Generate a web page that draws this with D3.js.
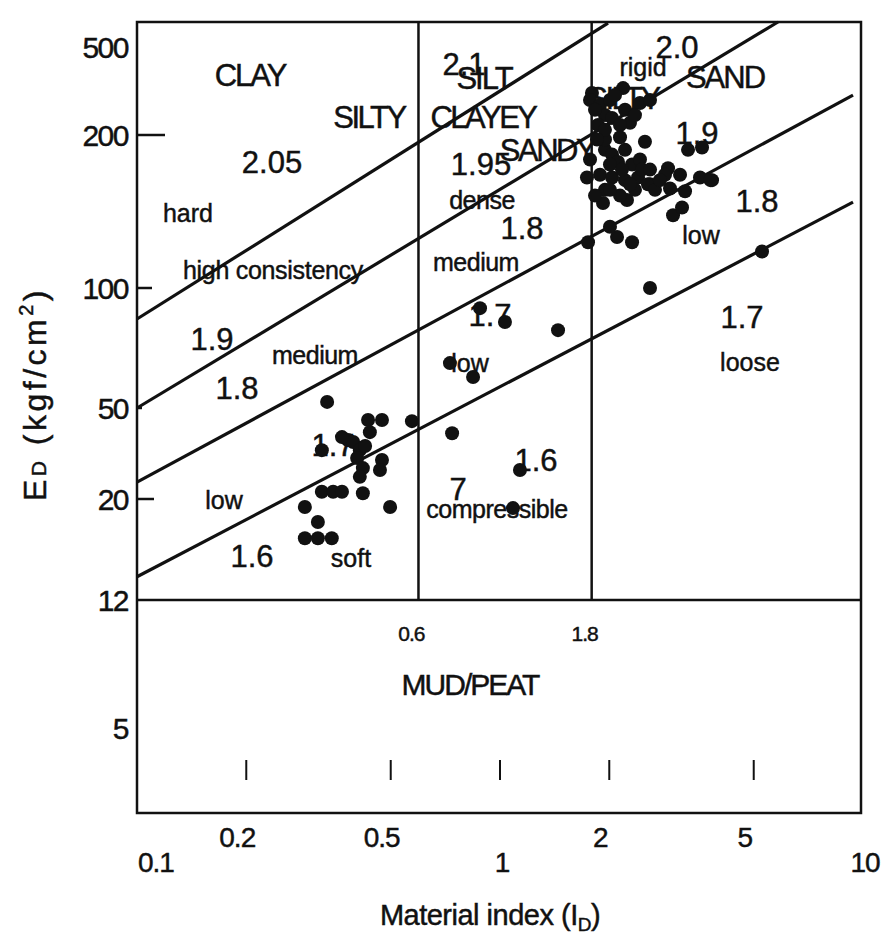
<!DOCTYPE html>
<html><head><meta charset="utf-8">
<script src="https://cdn.jsdelivr.net/npm/d3@7/dist/d3.min.js"></script>
<style>
body{margin:0;background:#fff}
svg{display:block}
text{font-family:"Liberation Sans",Arial,Helvetica,sans-serif;fill:#111;stroke:#111;stroke-width:0.45px}
</style>
</head><body>
<svg id="chart" width="881" height="942"></svg>
<script>
// ---------------- data ----------------
const xTicksUpper = [0.2, 0.5, 2, 5];
const xTicksLower = [0.1, 1, 10];
const xTickMarks  = [0.2, 0.5, 1, 2, 5];
const yTicks      = [5, 12, 20, 50, 100, 200, 500];
const yTickLen    = [0, 0, 17, 5, 15, 28, 0];
const boundaries  = [0.6, 1.8];      // ID boundaries clay/silt/sand
const mudLimit    = 12;              // ED below which MUD/PEAT

// constant unit weight lines (start & end in data units)
const lineStartX = [0.1, 0.1, 0.1, 0.1];
const lineStartY = [83.6, 50, 23.7, 13.5];
const lineEndX   = [1.984, 5.833, 9.387, 9.387];
const lineEndY   = [642, 650, 303, 147.6];

// measured points: material index ID, modulus ED (kgf/cm2)
const pointsID = [
  0.334,0.433,0.473,0.572,0.438,0.381,0.394,0.323,0.411,0.404,0.473,0.419,0.467,0.411,
  0.323,0.347,0.367,0.419,0.290,0.498,0.315,0.290,0.315,0.344,0.367,0.425,
  0.881,1.032,1.445,0.728,0.843,0.738,1.135,1.086,
  2.590,5.27,1.748,2.311,2.101,2.009,2.997,3.173,1.922,2.238,3.234,2.940,2.590,3.556,3.838,
  2.903,3.133,3.296,3.602,1.736,1.770,2.508,2.281,2.183,1.792,
  1.770,1.886,2.009,2.210,2.430,2.590,1.946,1.862,2.035,
  1.946,2.035,2.114,2.210,2.311,2.430,1.886,2.035,2.210,2.400,1.946,2.141,2.354,2.557,
  1.946,2.141,2.848,3.80,
  1.827,2.074,2.354,1.946,2.141,1.850,2.009,2.168,2.281,2.461,2.009,1.827,2.590,2.673,2.759
];
const pointsED = [
  51.8,44.3,44.3,43.8,39.2,36.2,35.5,32.7,32.7,30.2,29.6,27.3,26.8,25.0,
  21.5,21.5,21.5,21.2,19.2,19.2,17.8,16.4,16.4,16.4,37.3,34.1,
  89.0,82.2,78.4,64.8,59.8,38.8,26.8,19.1,
  100,118,123,123,126,132,139,144,147,149,155,157,160,165,163,
  172,167,187,189,165,179,194,227,326,310,
  288,273,288,260,279,288,246,222,239,
  187,183,177,187,175,179,167,165,163,165,156,152,156,160,
  196,198,167,163,
  260,303,246,211,222,196,175,171,160,171,156,152,171,156,163
];

// text annotations (layout): text, x, y, font size, letter spacing
const labelLayout = [
  ["CLAY",250,75,31,-2],["SILTY",369,117,31,-2.5],["2.05",272,162,31,0],
  ["hard",188,213,25,0],["high consistency",273,270,25,-0.3],
  ["1.9",212,339,31,0],["medium",315,355,25,-0.5],["1.8",237,388,31,0],
  ["low",224,500,25,0],["1.6",252,556,31,0],["soft",351,558,25,0],["1.7",333,445,31,0],
  ["2.1",464,64,31,0],["SILT",484,78,31,-2],["CLAYEY",483,117,31,-2.5],
  ["1.95",481,164,31,0],["SANDY",547,150,31,-2.5],["dense",482,200,25,-0.5],
  ["1.8",522,228,31,0],["medium",476,262,25,-0.5],["1.7",490,315,31,0],
  ["low",470,363,25,0],["1.6",536,460,31,0],["7",458,489,31,0],["compressible",497,509,25,-0.5],
  ["2.0",677,47,31,0],["rigid",643,67,25,0],["SILTY",623,98,31,-2.5],["SAND",725,77,31,-2],
  ["1.9",697,133,31,0],["1.8",757,201,31,0],["low",701,235,25,0],
  ["1.7",742,317,31,0],["loose",750,362,25,0],
  ["MUD/PEAT",470,684,30,-2]
];

// ---------------- scales ----------------
const svg = d3.select("#chart");
const x = d3.scaleLog().domain([0.1, 10]).range([137, 863]);
// scanned chart: piecewise logarithmic vertical axis
const y = d3.scaleLog()
  .domain([2.8, 5, 12, 20, 50, 100, 200, 500, 650])
  .range([813, 728, 600, 499, 408, 288, 135, 47, 22]);

const frameL = x(0.1), frameR = x(10) - 2, frameT = y(650), frameB = y(2.8);

// frame
svg.append("rect").attr("x", frameL).attr("y", frameT)
  .attr("width", frameR - frameL).attr("height", frameB - frameT)
  .attr("fill", "none").attr("stroke", "#111").attr("stroke-width", 2.5);
svg.append("line").attr("x1", frameL).attr("x2", frameR + 1)
  .attr("y1", y(mudLimit)).attr("y2", y(mudLimit))
  .attr("stroke", "#111").attr("stroke-width", 2.5);

// boundaries
svg.selectAll(".bnd").data(boundaries).enter().append("line")
  .attr("x1", d => x(d) - 1).attr("x2", d => x(d) - 1)
  .attr("y1", frameT).attr("y2", y(mudLimit))
  .attr("stroke", "#111").attr("stroke-width", 2.5);
svg.selectAll(".bndl").data(boundaries).enter().append("text")
  .attr("x", d => x(d) - 8).attr("y", y(mudLimit) + 41)
  .attr("text-anchor", "middle").attr("font-size", 21).attr("letter-spacing", -1)
  .text(d => d);

// unit weight lines
const lineGen = d3.line().x(d => x(d[0])).y(d => y(d[1]));
lineStartX.forEach((sx, i) => {
  svg.append("path")
    .attr("d", lineGen([[sx, lineStartY[i]], [lineEndX[i], lineEndY[i]]]))
    .attr("fill", "none").attr("stroke", "#111").attr("stroke-width", 3.2);
});

// y ticks
yTicks.forEach((t, i) => {
  if (yTickLen[i] > 0) {
    svg.append("line").attr("x1", frameL).attr("x2", frameL + yTickLen[i])
      .attr("y1", y(t)).attr("y2", y(t)).attr("stroke", "#111").attr("stroke-width", 2.5);
  }
  svg.append("text").attr("x", 128).attr("y", y(t)).attr("dy", "0.36em")
    .attr("text-anchor", "end").attr("font-size", 30).attr("letter-spacing", -1.5)
    .text(t);
});

// x tick marks inside lower box
svg.selectAll(".xtm").data(xTickMarks).enter().append("line")
  .attr("x1", d => x(d)).attr("x2", d => x(d))
  .attr("y1", 760).attr("y2", 780).attr("stroke", "#111").attr("stroke-width", 2);

// x tick labels
svg.selectAll(".xtu").data(xTicksUpper).enter().append("text")
  .attr("x", d => x(d) - 9).attr("y", 847).attr("text-anchor", "middle")
  .attr("font-size", 28).attr("letter-spacing", -1).text(d => d);
svg.selectAll(".xtl").data(xTicksLower).enter().append("text")
  .attr("x", d => d === 0.1 ? x(d) + 1 : x(d) + 2).attr("y", 872)
  .attr("text-anchor", d => d === 0.1 ? "start" : "middle")
  .attr("font-size", 28).attr("letter-spacing", -1).text(d => d);

// annotations
labelLayout.forEach(([t, lx, ly, fs, ls]) => {
  svg.append("text").attr("x", lx).attr("y", ly).attr("dy", "0.36em")
    .attr("text-anchor", "middle").attr("font-size", fs)
    .attr("letter-spacing", ls).text(t);
});

// points
svg.selectAll(".pt").data(pointsID.map((v, i) => [v, pointsED[i]])).enter()
  .append("circle").attr("cx", d => x(d[0])).attr("cy", d => y(d[1]))
  .attr("r", 7).attr("fill", "#111");

// axis titles
const xt = svg.append("text").attr("x", 490).attr("y", 925)
  .attr("text-anchor", "middle").attr("font-size", 29).attr("letter-spacing", -0.5);
xt.append("tspan").text("Material index (I");
xt.append("tspan").attr("font-size", 19).attr("dy", 6).text("D");
xt.append("tspan").attr("dy", -6).text(")");

const yt = svg.append("text").attr("transform", "translate(46,394) rotate(-90)")
  .attr("text-anchor", "middle").attr("font-size", 32).attr("letter-spacing", 3.5);
yt.append("tspan").text("E");
yt.append("tspan").attr("font-size", 21).text("D");
yt.append("tspan").text(" (kgf/cm");
yt.append("tspan").attr("font-size", 20).attr("dy", -13).text("2");
yt.append("tspan").attr("dy", 13).text(")");
</script>
</body></html>
